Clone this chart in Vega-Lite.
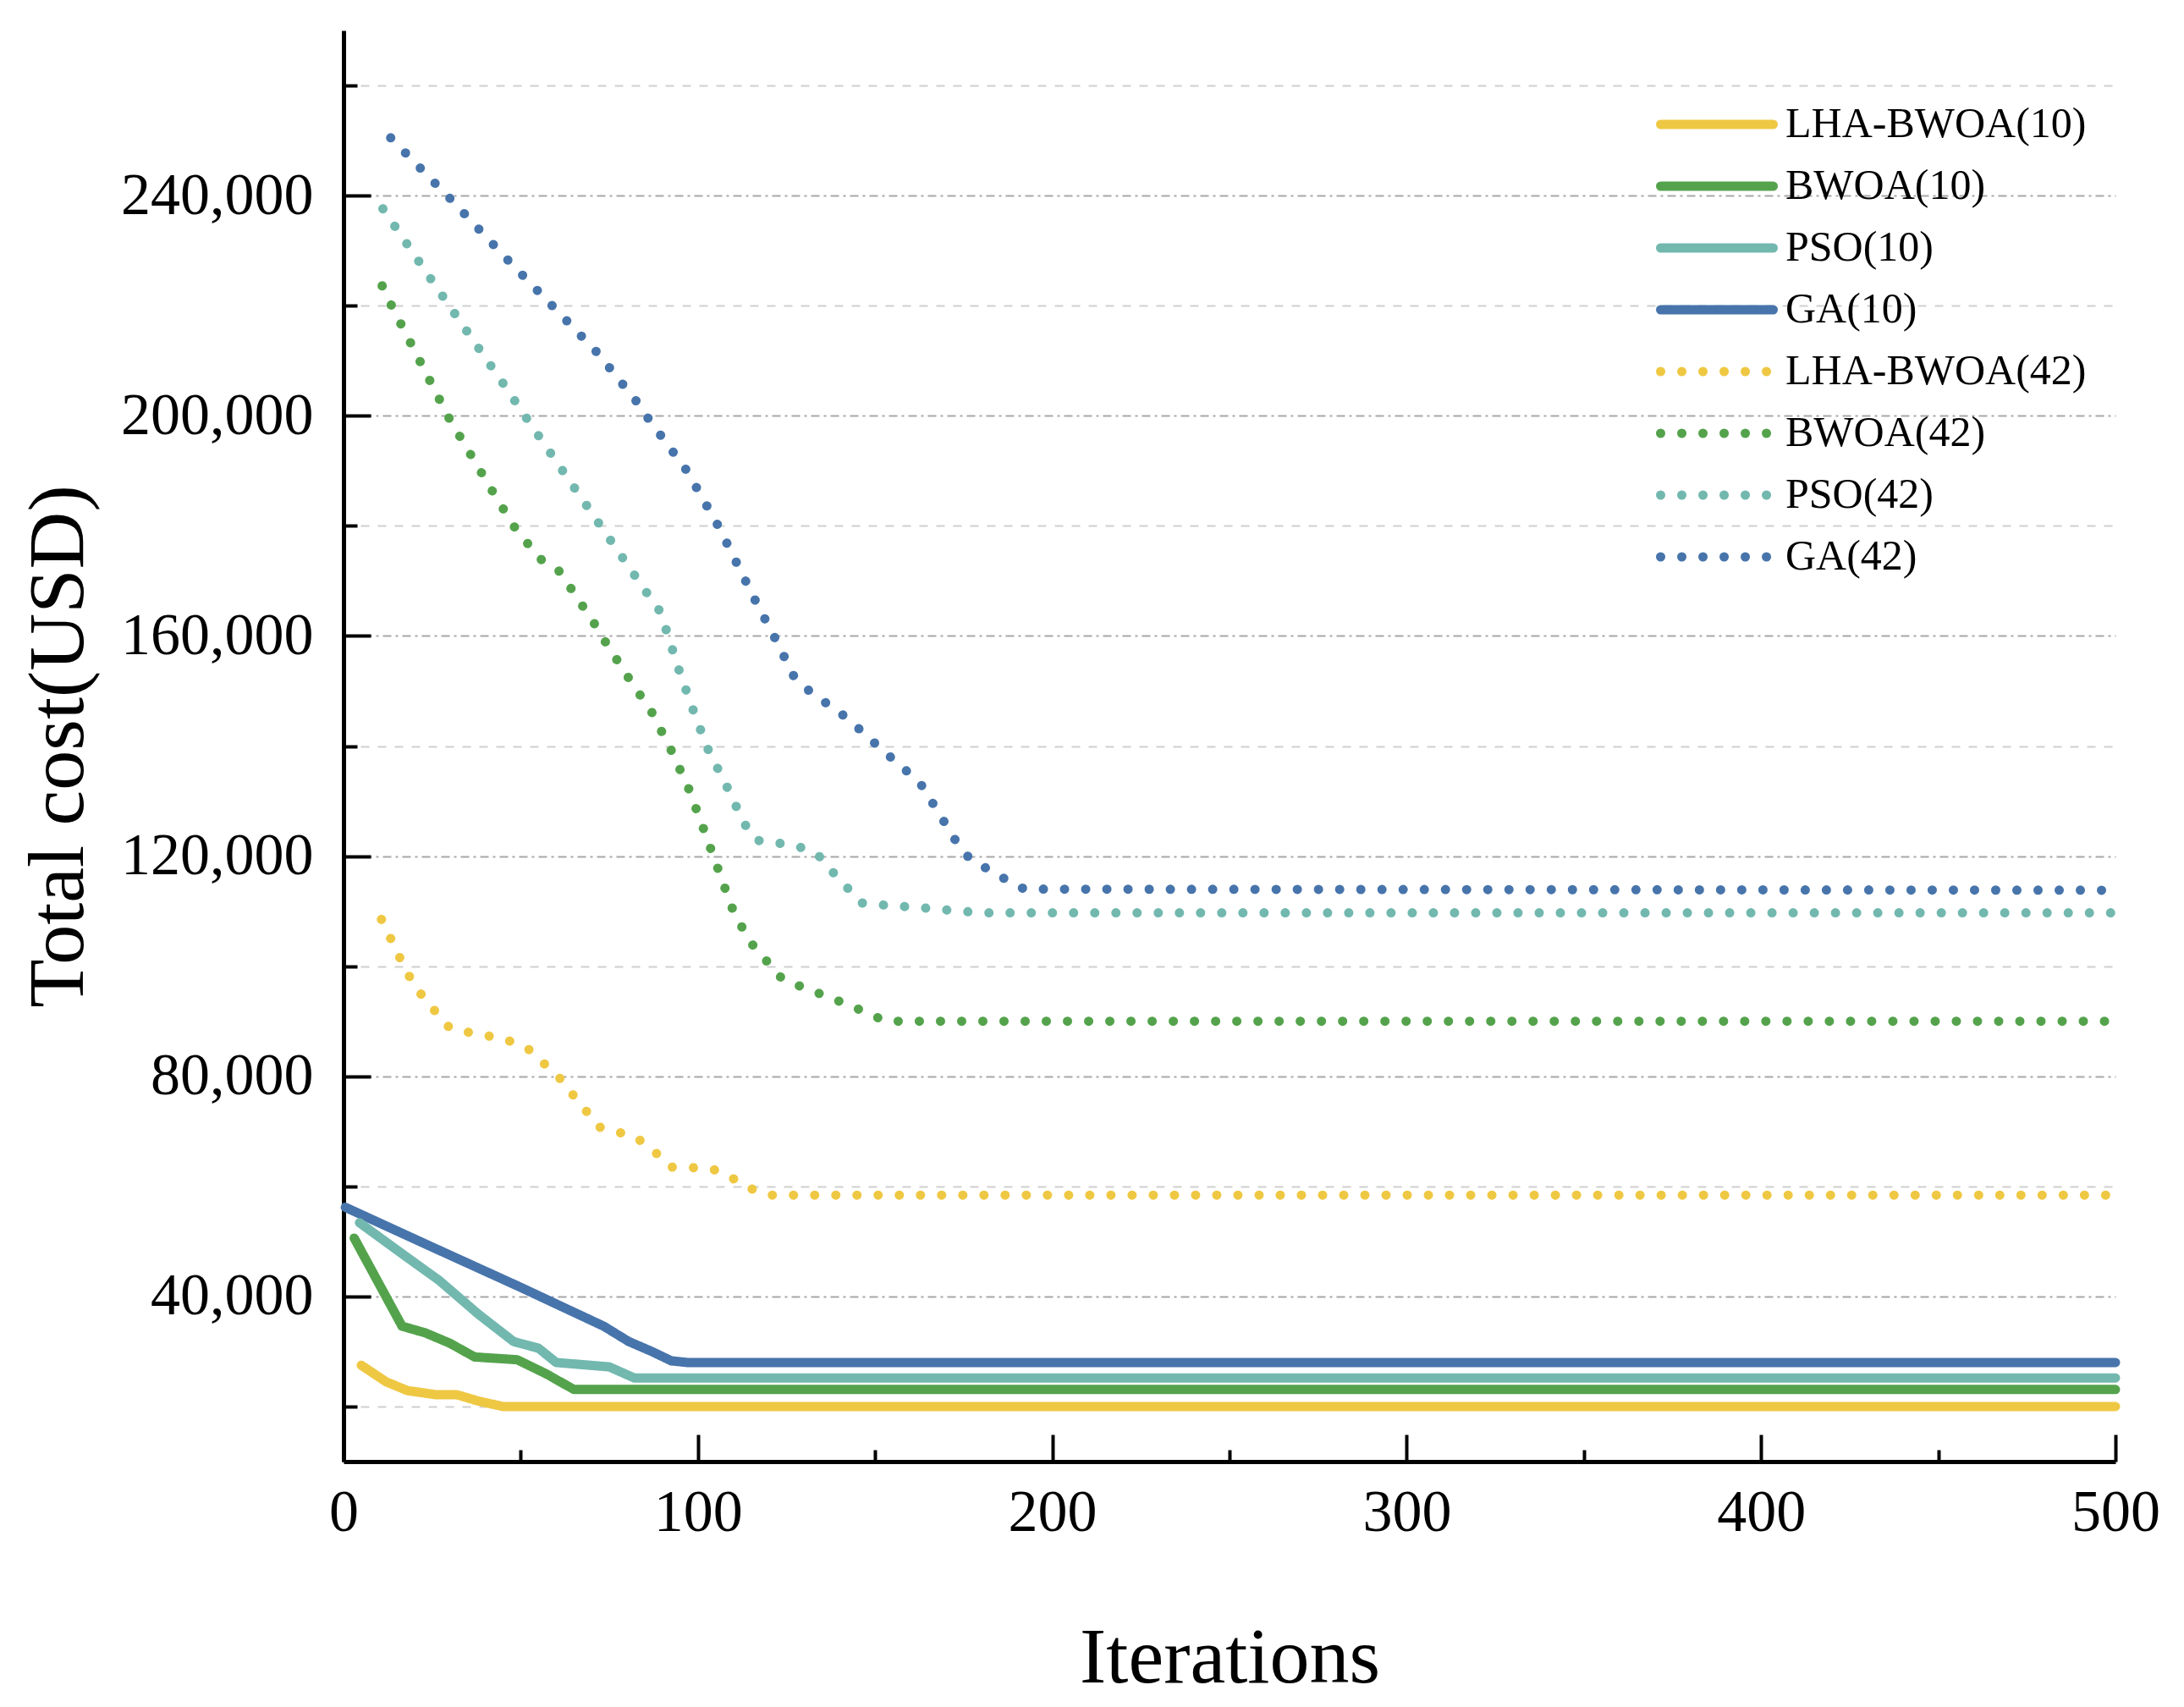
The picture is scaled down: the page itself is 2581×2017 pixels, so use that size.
{
  "$schema": "https://vega.github.io/schema/vega-lite/v6.json",
  "width": 2094,
  "height": 1691,
  "autosize": {"type": "none"},
  "padding": {"left": 406, "top": 36, "right": 81, "bottom": 290},
  "background": "white",
  "view": {"stroke": null},
  "config": {
    "font": "Liberation Serif",
    "axis": {
      "domainColor": "black",
      "domainWidth": 5,
      "tickColor": "black",
      "tickWidth": 4,
      "labelFont": "Liberation Serif",
      "labelFontSize": 70,
      "labelColor": "black",
      "labelLimit": 500,
      "titleFont": "Liberation Serif",
      "titleFontSize": 94,
      "titleFontWeight": "normal",
      "titleColor": "black"
    }
  },
  "data": {
    "values": [
      {"s": "GA(42)", "x": 13.3, "y": 250500},
      {"s": "GA(42)", "x": 30, "y": 239500},
      {"s": "GA(42)", "x": 46.5, "y": 228200},
      {"s": "GA(42)", "x": 59.1, "y": 219850},
      {"s": "GA(42)", "x": 71.7, "y": 211400},
      {"s": "GA(42)", "x": 82.8, "y": 202500},
      {"s": "GA(42)", "x": 86.1, "y": 199400},
      {"s": "GA(42)", "x": 96.9, "y": 190000},
      {"s": "GA(42)", "x": 105.8, "y": 179900},
      {"s": "GA(42)", "x": 116.3, "y": 166300},
      {"s": "GA(42)", "x": 121.9, "y": 159400},
      {"s": "GA(42)", "x": 127.2, "y": 152500},
      {"s": "GA(42)", "x": 131.6, "y": 149900},
      {"s": "GA(42)", "x": 136.4, "y": 147700},
      {"s": "GA(42)", "x": 141.4, "y": 145400},
      {"s": "GA(42)", "x": 146.2, "y": 142700},
      {"s": "GA(42)", "x": 150.6, "y": 140100},
      {"s": "GA(42)", "x": 155.2, "y": 137500},
      {"s": "GA(42)", "x": 159.7, "y": 135000},
      {"s": "GA(42)", "x": 163.8, "y": 132400},
      {"s": "GA(42)", "x": 166.8, "y": 129000},
      {"s": "GA(42)", "x": 169.9, "y": 125800},
      {"s": "GA(42)", "x": 173, "y": 122500},
      {"s": "GA(42)", "x": 176.6, "y": 119600},
      {"s": "GA(42)", "x": 181.6, "y": 117700},
      {"s": "GA(42)", "x": 186.8, "y": 115800},
      {"s": "GA(42)", "x": 192.1, "y": 114000},
      {"s": "GA(42)", "x": 500, "y": 113800},

      {"s": "PSO(42)", "x": 11.1, "y": 237600},
      {"s": "PSO(42)", "x": 28.2, "y": 221500},
      {"s": "PSO(42)", "x": 45.1, "y": 205800},
      {"s": "PSO(42)", "x": 51.8, "y": 199400},
      {"s": "PSO(42)", "x": 72.1, "y": 180400},
      {"s": "PSO(42)", "x": 85.7, "y": 167700},
      {"s": "PSO(42)", "x": 88.9, "y": 164900},
      {"s": "PSO(42)", "x": 90.9, "y": 161400},
      {"s": "PSO(42)", "x": 94.5, "y": 154100},
      {"s": "PSO(42)", "x": 98.5, "y": 146800},
      {"s": "PSO(42)", "x": 102.7, "y": 139600},
      {"s": "PSO(42)", "x": 108.1, "y": 132700},
      {"s": "PSO(42)", "x": 113.1, "y": 125900},
      {"s": "PSO(42)", "x": 116.4, "y": 122900},
      {"s": "PSO(42)", "x": 122.3, "y": 122400},
      {"s": "PSO(42)", "x": 128.2, "y": 121800},
      {"s": "PSO(42)", "x": 133.9, "y": 120200},
      {"s": "PSO(42)", "x": 137.9, "y": 117200},
      {"s": "PSO(42)", "x": 141.8, "y": 114500},
      {"s": "PSO(42)", "x": 146, "y": 111500},
      {"s": "PSO(42)", "x": 150.5, "y": 111200},
      {"s": "PSO(42)", "x": 162.4, "y": 110650},
      {"s": "PSO(42)", "x": 174.1, "y": 110000},
      {"s": "PSO(42)", "x": 180, "y": 109700},
      {"s": "PSO(42)", "x": 500, "y": 109700},

      {"s": "BWOA(42)", "x": 10.9, "y": 223600},
      {"s": "BWOA(42)", "x": 13.4, "y": 220200},
      {"s": "BWOA(42)", "x": 29.9, "y": 199400},
      {"s": "BWOA(42)", "x": 42.1, "y": 186200},
      {"s": "BWOA(42)", "x": 48.4, "y": 179600},
      {"s": "BWOA(42)", "x": 55.5, "y": 174000},
      {"s": "BWOA(42)", "x": 61, "y": 171700},
      {"s": "BWOA(42)", "x": 67.4, "y": 165500},
      {"s": "BWOA(42)", "x": 70.9, "y": 162100},
      {"s": "BWOA(42)", "x": 74, "y": 158800},
      {"s": "BWOA(42)", "x": 80.4, "y": 152400},
      {"s": "BWOA(42)", "x": 87.1, "y": 146000},
      {"s": "BWOA(42)", "x": 92.4, "y": 139300},
      {"s": "BWOA(42)", "x": 97.3, "y": 132400},
      {"s": "BWOA(42)", "x": 101.5, "y": 125100},
      {"s": "BWOA(42)", "x": 105.6, "y": 117800},
      {"s": "BWOA(42)", "x": 109.6, "y": 110650},
      {"s": "BWOA(42)", "x": 112.5, "y": 107000},
      {"s": "BWOA(42)", "x": 115.9, "y": 103400},
      {"s": "BWOA(42)", "x": 120, "y": 100500},
      {"s": "BWOA(42)", "x": 123.9, "y": 97600},
      {"s": "BWOA(42)", "x": 128.3, "y": 96500},
      {"s": "BWOA(42)", "x": 134, "y": 95100},
      {"s": "BWOA(42)", "x": 139.6, "y": 93700},
      {"s": "BWOA(42)", "x": 146, "y": 92000},
      {"s": "BWOA(42)", "x": 153, "y": 90000},
      {"s": "BWOA(42)", "x": 500, "y": 90000},

      {"s": "LHA-BWOA(42)", "x": 10.7, "y": 108500},
      {"s": "LHA-BWOA(42)", "x": 13.4, "y": 104900},
      {"s": "LHA-BWOA(42)", "x": 15.9, "y": 101500},
      {"s": "LHA-BWOA(42)", "x": 18.7, "y": 98000},
      {"s": "LHA-BWOA(42)", "x": 22.1, "y": 94700},
      {"s": "LHA-BWOA(42)", "x": 26, "y": 91700},
      {"s": "LHA-BWOA(42)", "x": 29.9, "y": 88800},
      {"s": "LHA-BWOA(42)", "x": 34.4, "y": 88100},
      {"s": "LHA-BWOA(42)", "x": 40.3, "y": 87400},
      {"s": "LHA-BWOA(42)", "x": 46.1, "y": 86600},
      {"s": "LHA-BWOA(42)", "x": 51.9, "y": 85100},
      {"s": "LHA-BWOA(42)", "x": 56.5, "y": 82350},
      {"s": "LHA-BWOA(42)", "x": 60.7, "y": 79900},
      {"s": "LHA-BWOA(42)", "x": 64.5, "y": 76800},
      {"s": "LHA-BWOA(42)", "x": 68.2, "y": 73900},
      {"s": "LHA-BWOA(42)", "x": 72.1, "y": 70800},
      {"s": "LHA-BWOA(42)", "x": 76.7, "y": 70000},
      {"s": "LHA-BWOA(42)", "x": 82.4, "y": 69000},
      {"s": "LHA-BWOA(42)", "x": 88.1, "y": 66100},
      {"s": "LHA-BWOA(42)", "x": 92.4, "y": 63500},
      {"s": "LHA-BWOA(42)", "x": 98.4, "y": 63400},
      {"s": "LHA-BWOA(42)", "x": 104.3, "y": 63100},
      {"s": "LHA-BWOA(42)", "x": 110.3, "y": 61300},
      {"s": "LHA-BWOA(42)", "x": 115.6, "y": 59400},
      {"s": "LHA-BWOA(42)", "x": 120.8, "y": 58400},
      {"s": "LHA-BWOA(42)", "x": 500, "y": 58400},

      {"s": "GA(10)", "x": 0.5, "y": 56200},
      {"s": "GA(10)", "x": 25.6, "y": 48800},
      {"s": "GA(10)", "x": 49.5, "y": 41800},
      {"s": "GA(10)", "x": 73.4, "y": 34600},
      {"s": "GA(10)", "x": 80.5, "y": 31800},
      {"s": "GA(10)", "x": 87, "y": 30000},
      {"s": "GA(10)", "x": 92.5, "y": 28300},
      {"s": "GA(10)", "x": 97, "y": 28000},
      {"s": "GA(10)", "x": 500, "y": 28000},

      {"s": "PSO(10)", "x": 4.5, "y": 53400},
      {"s": "PSO(10)", "x": 16, "y": 48000},
      {"s": "PSO(10)", "x": 27, "y": 42900},
      {"s": "PSO(10)", "x": 38, "y": 36800},
      {"s": "PSO(10)", "x": 48, "y": 31800},
      {"s": "PSO(10)", "x": 55, "y": 30600},
      {"s": "PSO(10)", "x": 60, "y": 28000},
      {"s": "PSO(10)", "x": 75, "y": 27200},
      {"s": "PSO(10)", "x": 82, "y": 25200},
      {"s": "PSO(10)", "x": 500, "y": 25200},

      {"s": "BWOA(10)", "x": 3, "y": 50600},
      {"s": "BWOA(10)", "x": 16.5, "y": 34600},
      {"s": "BWOA(10)", "x": 23, "y": 33400},
      {"s": "BWOA(10)", "x": 30, "y": 31500},
      {"s": "BWOA(10)", "x": 37, "y": 29000},
      {"s": "BWOA(10)", "x": 49, "y": 28500},
      {"s": "BWOA(10)", "x": 57, "y": 26000},
      {"s": "BWOA(10)", "x": 65, "y": 23100},
      {"s": "BWOA(10)", "x": 500, "y": 23100},

      {"s": "LHA-BWOA(10)", "x": 5, "y": 27500},
      {"s": "LHA-BWOA(10)", "x": 12, "y": 24500},
      {"s": "LHA-BWOA(10)", "x": 18, "y": 22900},
      {"s": "LHA-BWOA(10)", "x": 26, "y": 22150},
      {"s": "LHA-BWOA(10)", "x": 32, "y": 22150},
      {"s": "LHA-BWOA(10)", "x": 38, "y": 21000},
      {"s": "LHA-BWOA(10)", "x": 45, "y": 20000},
      {"s": "LHA-BWOA(10)", "x": 500, "y": 20000}
    ]
  },
  "mark": {
    "type": "line",
    "strokeWidth": 11,
    "strokeCap": "round",
    "strokeJoin": "round"
  },
  "encoding": {
    "x": {
      "field": "x",
      "type": "quantitative",
      "title": "Iterations",
      "scale": {"domain": [0, 500], "nice": false},
      "axis": {
        "values": [0, 50, 100, 150, 200, 250, 300, 350, 400, 450, 500],
        "labelExpr": "datum.value % 100 === 0 ? format(datum.value, 'd') : ''",
        "tickSize": {"condition": {"test": "datum.value % 100 === 0", "value": -32}, "value": -14},
        "labelPadding": 58,
        "labelFlush": false,
        "grid": false,
        "titleBaseline": "alphabetic",
        "titleY": 260
      }
    },
    "y": {
      "field": "y",
      "type": "quantitative",
      "title": "Total cost(USD)",
      "scale": {"domain": [10000, 270000], "nice": false, "zero": false},
      "axis": {
        "values": [20000, 40000, 60000, 80000, 100000, 120000, 140000, 160000, 180000, 200000, 220000, 240000, 260000],
        "labelExpr": "datum.value % 40000 === 0 ? format(datum.value, ',') : ''",
        "tickSize": {"condition": {"test": "datum.value % 40000 === 0", "value": -32}, "value": -16},
        "labelPadding": 68,
        "grid": true,
        "gridWidth": 2,
        "gridColor": {"condition": {"test": "datum.value % 40000 === 0", "value": "#a8a8a8"}, "value": "#cfcfcf"},
        "gridDash": {"condition": {"test": "datum.value % 40000 === 0", "value": [10, 5, 3, 5]}, "value": [10, 10]},
        "titleBaseline": "alphabetic",
        "titleX": -309
      }
    },
    "color": {
      "field": "s",
      "type": "nominal",
      "scale": {
        "domain": ["LHA-BWOA(10)", "BWOA(10)", "PSO(10)", "GA(10)", "LHA-BWOA(42)", "BWOA(42)", "PSO(42)", "GA(42)"],
        "range": ["#EFC843", "#54A34C", "#72B8AF", "#4774AB", "#EFC843", "#54A34C", "#72B8AF", "#4774AB"]
      },
      "legend": {
        "orient": "none",
        "legendX": 1551,
        "legendY": 86,
        "title": null,
        "padding": 0,
        "symbolType": "stroke",
        "symbolSize": 17689,
        "symbolStrokeWidth": 11,
        "clipHeight": 50,
        "rowPadding": 23,
        "labelFont": "Liberation Serif",
        "labelFontSize": 50,
        "labelColor": "black",
        "labelOffset": 9,
        "labelLimit": 800,
        "encode": {
          "symbols": {"update": {"strokeCap": {"value": "round"}}}
        }
      }
    },
    "strokeDash": {
      "field": "s",
      "type": "nominal",
      "scale": {
        "domain": ["LHA-BWOA(10)", "BWOA(10)", "PSO(10)", "GA(10)", "LHA-BWOA(42)", "BWOA(42)", "PSO(42)", "GA(42)"],
        "range": [[1, 0], [1, 0], [1, 0], [1, 0], [0.01, 25], [0.01, 25], [0.01, 25], [0.01, 25]]
      }
    }
  }
}
